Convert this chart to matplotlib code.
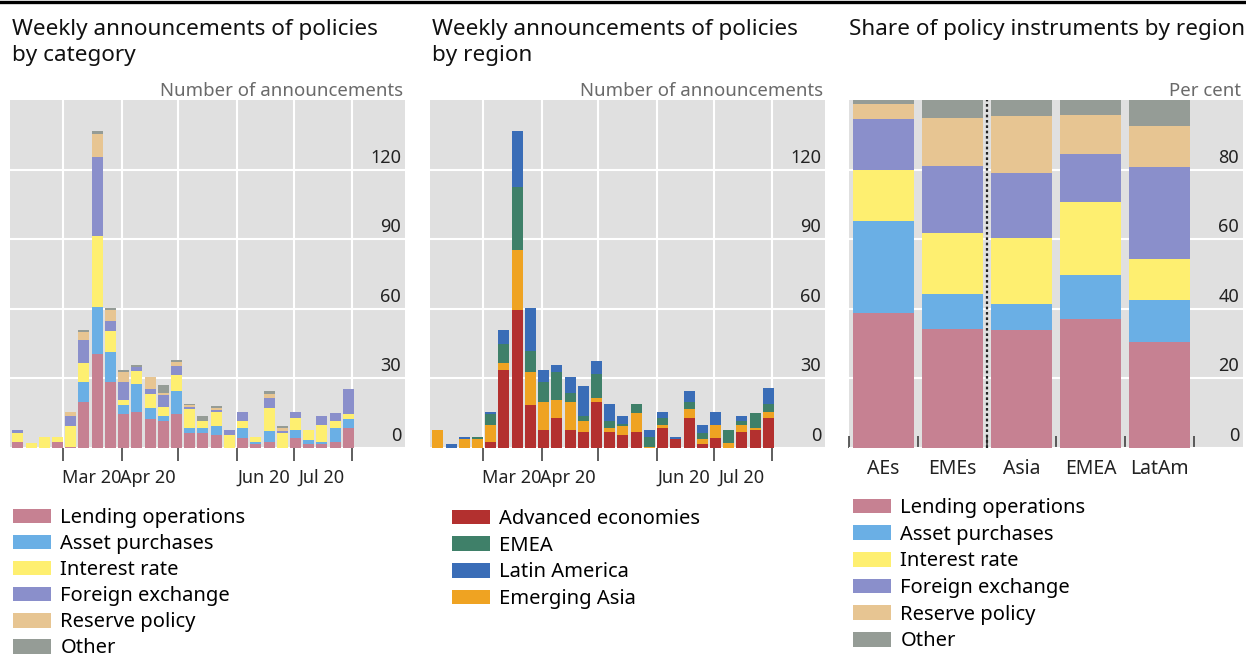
import matplotlib
matplotlib.use("Agg")
import matplotlib.pyplot as plt
import matplotlib.dates as mdates
import matplotlib.transforms as mtransforms
from matplotlib.patches import Patch
from matplotlib.lines import Line2D
import numpy as np

plt.rcParams['font.family'] = ['Noto Sans', 'DejaVu Sans']

# ---------------- data ----------------
week_start = "2020-02-06"
n_weeks = 26

cat_names = ["Lending operations", "Asset purchases", "Interest rate",
             "Foreign exchange", "Reserve policy", "Other"]
lending  = [2.5, 0, 0, 2.5, 0.5, 19.5, 40.5, 28.5, 14.5, 15.3, 12.3, 11.5, 14.5, 6.2, 6.2, 5.4, 0, 4.4, 1.6, 2.6, 0, 4.4, 1.6, 1.6, 2.6, 8.3]
asset    = [0, 0, 0, 0, 0, 9, 20, 13, 4, 12, 5, 2, 10, 2.1, 2.1, 3.9, 0, 3.9, 1, 4.7, 0, 3.2, 1.7, 1, 5.7, 3.9]
interest = [4, 2, 4.5, 2, 9, 8, 31, 9, 2, 6, 6, 4, 6.7, 8.2, 3.2, 6.2, 5.4, 3.2, 2.1, 10, 6.4, 5, 4.3, 7.2, 3.2, 2.3]
fx       = [1, 0, 0, 0, 4, 10, 34, 4, 8, 1.7, 2, 5.2, 4.2, 0.9, 0, 0.7, 2.1, 4, 0, 4.3, 1, 2.9, 0, 3.9, 3.3, 11]
reserve  = [0, 0, 0, 0, 2, 3.5, 10, 5, 4.3, 0, 5, 1, 1.6, 1, 0, 1, 0, 0, 0, 1.7, 1, 0, 0, 0, 0, 0]
other    = [0, 0, 0, 0, 0, 0.7, 1, 0.8, 0.7, 0.5, 0, 3.2, 0.7, 0.5, 2.1, 0.7, 0, 0, 0, 1.1, 1, 0, 0, 0, 0, 0]

reg_names = ["Advanced economies", "EMEA", "Latin America", "Emerging Asia"]
adv_econ  = [0, 0, 0, 0, 2.6, 33.7, 59.6, 18.6, 7.6, 12.6, 7.6, 6.6, 19.5, 6.6, 5.4, 6.6, 0, 8.6, 3.6, 12.6, 1.6, 4.4, 0, 6.6, 7.6, 12.6]
em_asia   = [7.6, 0, 3.6, 3.6, 7.2, 2.9, 25.8, 14, 11.9, 7.9, 12.2, 4.9, 2.1, 2, 3.9, 8.5, 0.5, 1.1, 0, 3.9, 2, 5.3, 2, 3.2, 1, 2.9]
emea      = [0, 0, 0, 1.1, 4.7, 8, 27.1, 9, 8.9, 12.2, 3.6, 2.1, 10, 2.9, 1.1, 3.6, 4, 2.9, 0, 3, 2.6, 0, 5.6, 1.7, 6.2, 3.2]
lat_am    = [0, 1.6, 1.1, 0, 1, 6, 24.1, 18.6, 5.3, 2.9, 7.2, 12.9, 6, 7.3, 3.2, 0, 3.1, 2.9, 1.1, 5, 3.6, 5.7, 0, 2.1, 0, 6.9]

share_regions  = ["AEs", "EMEs", "Asia", "EMEA", "LatAm"]
share_lending  = [38.8, 34.0, 33.8, 37.1, 30.4]
share_asset    = [26.3, 10.3, 7.6, 12.6, 12.0]
share_interest = [14.8, 17.4, 18.9, 20.9, 11.8]
share_fx       = [14.6, 19.4, 18.6, 13.9, 26.5]
share_reserve  = [4.4, 13.6, 16.6, 11.3, 11.9]
share_other    = [1.1, 5.3, 4.5, 4.2, 7.4]

month_labels = ["Mar 20", "Apr 20", "Jun 20", "Jul 20"]
month_label_pos = ["2020-03-16", "2020-04-15", "2020-06-15", "2020-07-16"]
month_ticks = ["2020-03-01", "2020-04-01", "2020-05-01", "2020-06-01", "2020-07-01", "2020-08-01"]
count_ticks = [0, 30, 60, 90, 120]
share_ticks = [0, 20, 40, 60, 80]

# ---------------- style ----------------
cat_colors = ["#C68192", "#6AAFE5", "#FEEF70", "#8A8FCB", "#E7C592", "#959C96"]
reg_colors = {"Advanced economies": "#B3302F", "EMEA": "#3F8069",
              "Latin America": "#3A6DB7", "Emerging Asia": "#EFA322"}
BG = "#E0E0E0"
W, H = 1246, 658
fig = plt.figure(figsize=(W / 100, H / 100), dpi=100)

def px_axes(x0, x1, ytop, ybot):
    return fig.add_axes([x0 / W, 1 - ybot / H, (x1 - x0) / W, (ybot - ytop) / H])

TICK_FS = 13
UNIT_FS = 13.4
dates = mdates.date2num(np.datetime64(week_start) + np.arange(n_weeks) * np.timedelta64(7, 'D'))
xlim = (mdates.date2num(np.datetime64("2020-02-01T20:00")), mdates.date2num(np.datetime64("2020-08-29")))

def ylabels(ax, ticks):
    off = mtransforms.ScaledTranslation(0, 3 / 100, fig.dpi_scale_trans)
    for v in ticks:
        ax.text(0.99, v, str(v), transform=ax.get_yaxis_transform() + off, ha='right', va='bottom',
                fontsize=TICK_FS, color='#222222')

def style_count_axes(ax):
    ax.set_facecolor(BG)
    for s in ax.spines.values():
        s.set_visible(False)
    ax.set_xlim(*xlim)
    ax.set_ylim(0, 150)
    ax.set_yticks(count_ticks)
    ax.set_yticklabels([])
    ax.tick_params(axis='y', length=0)
    ax.set_xticks(mdates.date2num(np.array(month_ticks, dtype='datetime64[D]')))
    ax.set_xticklabels([])
    ax.tick_params(axis='x', which='major', direction='out', length=9, width=1.1, color='#333333')
    ax.set_xticks(mdates.date2num(np.array(month_label_pos, dtype='datetime64[D]')), minor=True)
    ax.set_xticklabels(month_labels, minor=True, fontsize=TICK_FS, color='#222222')
    ax.tick_params(axis='x', which='minor', length=0, pad=15)
    ax.grid(True, which='major', color='white', linewidth=1.5)
    ax.set_axisbelow(True)
    ylabels(ax, count_ticks)
    ax.text(0.995, 1.0, "Number of announcements", transform=ax.transAxes, ha='right', va='bottom',
            fontsize=UNIT_FS, color='#6A6A6A')

# ----- left panel -----
ax1 = px_axes(10, 405, 100, 447.7)
style_count_axes(ax1)
bottom = np.zeros(n_weeks)
for name, vals, col in zip(cat_names, [lending, asset, interest, fx, reserve, other], cat_colors):
    v = np.array(vals, dtype=float)
    ax1.bar(dates, v, bottom=bottom, width=5.8, color=col, linewidth=0)
    bottom += v

# ----- middle panel -----
ax2 = px_axes(430, 825, 100, 447.7)
style_count_axes(ax2)
bottom = np.zeros(n_weeks)
stack = [("Advanced economies", adv_econ), ("Emerging Asia", em_asia),
         ("EMEA", emea), ("Latin America", lat_am)]
for name, vals in stack:
    v = np.array(vals, dtype=float)
    ax2.bar(dates, v, bottom=bottom, width=5.8, color=reg_colors[name], linewidth=0)
    bottom += v

# ----- right panel -----
ax3 = px_axes(849, 1243, 100, 447.7)
ax3.set_facecolor(BG)
for s in ax3.spines.values():
    s.set_visible(False)
xpos = np.arange(len(share_regions))
ax3.set_xlim(-0.5, 5.21)
ax3.set_ylim(0, 100)
bottom = np.zeros(len(share_regions))
for vals, col in zip([share_lending, share_asset, share_interest, share_fx, share_reserve, share_other], cat_colors):
    v = np.array(vals, dtype=float)
    ax3.bar(xpos, v, bottom=bottom, width=0.87, color=col, linewidth=0)
    bottom += v
ax3.set_yticks(share_ticks)
ax3.set_yticklabels([])
ax3.tick_params(axis='y', length=0)
ax3.grid(True, axis='y', color='white', linewidth=1.5)
ax3.set_axisbelow(True)
ax3.set_xticks(np.arange(len(share_regions) + 1) - 0.5)
ax3.set_xticklabels([])
ax3.tick_params(axis='x', which='major', direction='in', length=9, width=1.1, color='#333333')
ax3.set_xticks(xpos, minor=True)
ax3.set_xticklabels(share_regions, minor=True, fontsize=14, color='#222222')
ax3.tick_params(axis='x', which='minor', length=0, pad=8)
ylabels(ax3, share_ticks)
ax3.text(0.995, 1.0, "Per cent", transform=ax3.transAxes, ha='right', va='bottom',
         fontsize=UNIT_FS, color='#6A6A6A')
ax3.axvline(1.5, color='#222222', linestyle=(0, (1.2, 1.2)), linewidth=1.6, zorder=5)

# ----- titles -----
TITLE_FS = 16.2
TITLE_TOP = 19
fig.text(12 / W, 1 - TITLE_TOP / H, "Weekly announcements of policies\nby category", ha='left', va='top',
         fontsize=TITLE_FS, color='#111111', linespacing=1.3)
fig.text(432 / W, 1 - TITLE_TOP / H, "Weekly announcements of policies\nby region", ha='left', va='top',
         fontsize=TITLE_FS, color='#111111', linespacing=1.3)
fig.text(849 / W, 1 - TITLE_TOP / H, "Share of policy instruments by region", ha='left', va='top',
         fontsize=TITLE_FS, color='#111111', linespacing=1.3)

# top rule
fig.add_artist(Line2D([0, 1], [1 - 1.5 / H, 1 - 1.5 / H], color='black', linewidth=2.4,
                      transform=fig.transFigure))

# ----- legends -----
LEG_FS = 14.5
def add_legend(handles, x, ytop, spacing=0.33):
    fig.legend(handles=handles, loc='upper left', bbox_to_anchor=(x / W, 1 - ytop / H),
               frameon=False, fontsize=LEG_FS, handlelength=1.9, handleheight=0.75,
               handletextpad=0.45, labelspacing=spacing, borderpad=0, borderaxespad=0)

add_legend([Patch(facecolor=c, label=n) for n, c in zip(cat_names, cat_colors)], 13, 508, 0.30)
add_legend([Patch(facecolor=reg_colors[n], label=n) for n in reg_names], 452, 509)
add_legend([Patch(facecolor=c, label=n) for n, c in zip(cat_names, cat_colors)], 853, 498)

fig.savefig("out.png", dpi=100)
